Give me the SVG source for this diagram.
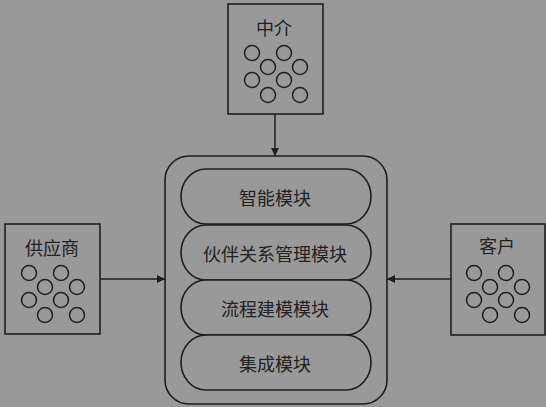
<svg xmlns="http://www.w3.org/2000/svg" width="546" height="407" viewBox="0 0 546 407">
<defs>
<style>
.box{fill:#999999;stroke:#1e1e1e;stroke-width:1.6}
.c{fill:none;stroke:#1e1e1e;stroke-width:1.5}
.t{font-family:"Noto Sans CJK SC","Noto Sans CJK JP",sans-serif;font-size:18px;fill:#222;text-anchor:middle;dominant-baseline:central}
.ln{stroke:#1e1e1e;stroke-width:1.5;fill:none}
</style>
<marker id="ah" viewBox="0 0 10 10" refX="10" refY="5" markerWidth="8" markerHeight="8" markerUnits="userSpaceOnUse" orient="auto">
<path d="M0,0 L10,5 L0,10 Z" fill="#1e1e1e"/>
</marker>
<g id="dots">
<circle class="c" cx="0" cy="0" r="7.5"/>
<circle class="c" cx="32" cy="0" r="7.5"/>
<circle class="c" cx="16" cy="14" r="7.5"/>
<circle class="c" cx="48" cy="14" r="7.5"/>
<circle class="c" cx="0" cy="27" r="7.5"/>
<circle class="c" cx="32" cy="27" r="7.5"/>
<circle class="c" cx="16" cy="42" r="7.5"/>
<circle class="c" cx="48" cy="42" r="7.5"/>
</g>
</defs>
<rect width="546" height="407" fill="#999999"/>
<g id="connectors">
<line class="ln" x1="275" y1="114" x2="275" y2="156" marker-end="url(#ah)"/>
<line class="ln" x1="100" y1="279" x2="165" y2="279" marker-end="url(#ah)"/>
<line class="ln" x1="451" y1="279" x2="387" y2="279" marker-end="url(#ah)"/>
</g>
<g id="zhongjie">
<rect class="box" x="228" y="4" width="95" height="110"/>
<text class="t" x="274" y="27">中介</text>
<use href="#dots" x="252" y="53"/>
</g>
<g id="gongyingshang">
<rect class="box" x="5" y="224" width="95" height="110"/>
<text class="t" x="52" y="247">供应商</text>
<use href="#dots" x="29" y="273"/>
</g>
<g id="kehu">
<rect class="box" x="451" y="224" width="94" height="111"/>
<text class="t" x="497" y="245">客户</text>
<use href="#dots" x="474" y="273"/>
</g>
<g id="platform">
<rect class="box" x="165" y="156" width="222" height="248" rx="24" ry="24"/>
</g>
<g id="m1">
<rect class="box" x="181" y="169" width="190" height="55" rx="25" ry="27.5"/>
<text class="t" x="275" y="197">智能模块</text>
</g>
<g id="m2">
<rect class="box" x="181" y="225" width="190" height="55" rx="25" ry="27.5"/>
<text class="t" x="275" y="253">伙伴关系管理模块</text>
</g>
<g id="m3">
<rect class="box" x="181" y="280" width="190" height="55" rx="25" ry="27.5"/>
<text class="t" x="275" y="308">流程建模模块</text>
</g>
<g id="m4">
<rect class="box" x="181" y="335" width="190" height="55" rx="25" ry="27.5"/>
<text class="t" x="275" y="363">集成模块</text>
</g>
</svg>
